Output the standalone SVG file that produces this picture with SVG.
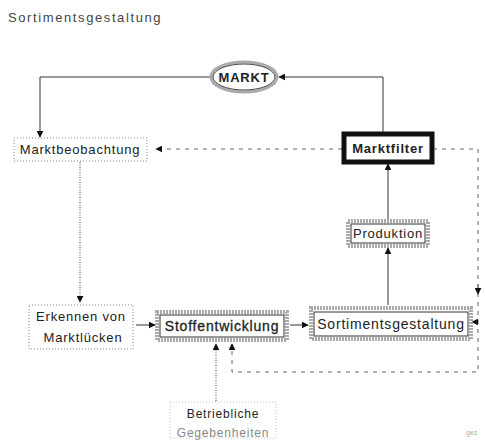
<svg xmlns="http://www.w3.org/2000/svg" width="485" height="440" viewBox="0 0 485 440">
<defs>
<style>
text{font-family:"Liberation Sans",Arial,sans-serif;fill:#222}
.t{font-size:13px;letter-spacing:0.8px}
.b{font-weight:bold}
.ln{stroke:#333;stroke-width:1;fill:none}
.dot{stroke:#444;stroke-width:1;fill:none;stroke-dasharray:1 1.5}
.dash{stroke:#666;stroke-width:1;fill:none;stroke-dasharray:4 5}
.halo{fill:none;stroke:#aaa;stroke-width:4;stroke-dasharray:2 1}
.inner{fill:#fff;stroke:#333;stroke-width:1}
.dbox{fill:#fff;stroke:#888;stroke-width:1;stroke-dasharray:1 2}
</style>
<marker id="ah" viewBox="0 0 10 10" refX="9" refY="5" markerWidth="7" markerHeight="7" orient="auto" markerUnits="userSpaceOnUse">
<path d="M0,0 L10,5 L0,10 z" fill="#111"/>
</marker>
</defs>
<rect width="485" height="440" fill="#fff"/>
<text x="8" y="22" style="font-size:13px;fill:#444;letter-spacing:1.6px">Sortimentsgestaltung</text>

<g id="connectors">
<path class="ln" d="M211,77 H40 V137" marker-end="url(#ah)"/>
<path class="ln" d="M383,133 V77 H279" marker-end="url(#ah)"/>
<path class="dash" d="M342,149 H156" marker-end="url(#ah)"/>
<path class="dash" d="M433,149 H478 V372 H232 V344" marker-end="url(#ah)"/>
<path class="dash" d="M478,284 V294" marker-end="url(#ah)"/>
<path class="dash" d="M478,322 H472" marker-end="url(#ah)"/>
<path class="dot" d="M80,162 V302" marker-end="url(#ah)"/>
<path class="ln" d="M388,219 V164" marker-end="url(#ah)"/>
<path class="ln" d="M388,305 V248" marker-end="url(#ah)"/>
<path class="ln" d="M136,325 H155" marker-end="url(#ah)"/>
<path class="ln" d="M290,325 H308" marker-end="url(#ah)"/>
<path class="dot" d="M216,401 V344" marker-end="url(#ah)"/>
</g>

<g id="markt">
<ellipse cx="244" cy="77" rx="33" ry="15" fill="none" stroke="#aaa" stroke-width="3"/>
<ellipse cx="244" cy="77" rx="31" ry="13" fill="#fff" stroke="#444" stroke-width="1"/>
<text x="244" y="82" text-anchor="middle" class="t b" style="font-size:13px">MARKT</text>
</g>

<g id="marktbeobachtung">
<rect x="14" y="138" width="133" height="23" class="dbox"/>
<text x="80" y="154" text-anchor="middle" class="t">Marktbeobachtung</text>
</g>

<g id="marktfilter">
<rect x="344" y="134" width="88" height="28" fill="#fff" stroke="#111" stroke-width="5"/>
<text x="388" y="153" text-anchor="middle" class="t b">Marktfilter</text>
</g>

<g id="produktion">
<rect x="348" y="221" width="80" height="25" class="halo"/>
<rect x="351" y="224" width="74" height="19" class="inner"/>
<text x="388" y="238" text-anchor="middle" class="t">Produktion</text>
</g>

<g id="erkennen">
<rect x="29" y="305" width="104" height="44" class="dbox"/>
<text x="81" y="321" text-anchor="middle" class="t">Erkennen  von</text>
<text x="83" y="342" text-anchor="middle" class="t">Marktlücken</text>
</g>

<g id="stoffentwicklung">
<rect x="157" y="312" width="130" height="28" class="halo"/>
<rect x="160" y="315" width="124" height="22" class="inner"/>
<text x="222" y="331" text-anchor="middle" class="t" style="font-size:14px;font-weight:500;stroke:#222;stroke-width:0.3">Stoffentwicklung</text>
</g>

<g id="sortimentsgestaltung">
<rect x="311" y="308" width="160" height="31" class="halo"/>
<rect x="314" y="312" width="154" height="24" class="inner"/>
<text x="391" y="329" text-anchor="middle" class="t" style="font-size:14px">Sortimentsgestaltung</text>
</g>

<g id="betriebliche">
<rect x="170" y="402" width="106" height="36" class="dbox" stroke-opacity="0.5"/>
<text x="223" y="418" text-anchor="middle" class="t" style="font-size:12px">Betriebliche</text>
<text x="223" y="437" text-anchor="middle" class="t" style="font-size:12px;fill:#888">Gegebenheiten</text>
</g>
<text x="466" y="435" style="font-size:7px;fill:#aaa">gez</text>
</svg>
